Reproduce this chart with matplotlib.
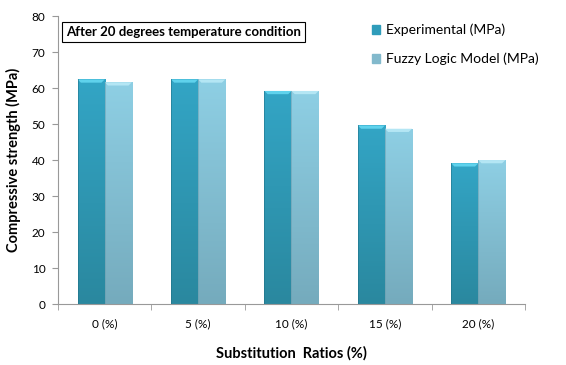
import matplotlib.pyplot as plt
import numpy as np
from matplotlib.colors import LinearSegmentedColormap
from matplotlib.patches import Patch

categories = ["0 (%)", "5 (%)", "10 (%)", "15 (%)", "20 (%)"]
experimental = [62.4, 62.4, 59.2, 49.6, 39.1]
fuzzy = [61.6, 62.4, 59.2, 48.7, 40.0]

plt.rcParams['font.family'] = ['Lato', 'DejaVu Sans']

fig = plt.figure(figsize=(5.66, 3.65), dpi=100)
ax = fig.add_axes([0.1025, 0.167, 0.825, 0.789])

x = np.arange(len(categories))
w = 0.29

# gradient fills, lighter at the top, darker near the base
exp_cmap = LinearSegmentedColormap.from_list("exp", ["#2a889f", "#33a5c5"])
fuz_cmap = LinearSegmentedColormap.from_list("fuz", ["#75abbd", "#8ecfe4"])
grad = np.linspace(0, 1, 100).reshape(-1, 1)

bars1 = ax.bar(x - w / 2, experimental, w, color="#33a5c5", edgecolor="none", zorder=2)
bars2 = ax.bar(x + w / 2, fuzzy, w, color="#8ecfe4", edgecolor="none", zorder=2)

for bars, cmap, cap, edge in [(bars1, exp_cmap, "#5fd2ec", "#1f6f85"),
                              (bars2, fuz_cmap, "#b4e6f4", "#6a9cad")]:
    for b in bars:
        x0, h, bw = b.get_x(), b.get_height(), b.get_width()
        im = ax.imshow(grad, cmap=cmap, origin="lower", aspect="auto",
                       extent=[x0, x0 + bw, 0, h], zorder=2)
        im.set_clip_path(b)
        # bevelled top edge
        ax.fill([x0, x0 + bw, x0 + bw * 0.88, x0 + bw * 0.12],
                [h, h, h - 0.9, h - 0.9], color=cap, lw=0, zorder=3)
        ax.plot([x0, x0], [0, h], color=edge, lw=0.6, alpha=0.6, zorder=3)

ax.set_xlim(-0.5, len(categories) - 0.5)
ax.set_ylim(0, 80)
ax.set_yticks(np.arange(0, 81, 10))
ax.set_xticks(x)
ax.set_xticklabels(categories)
ax.set_xticks(np.arange(-0.5, len(categories), 1), minor=True)
ax.tick_params(axis="x", which="major", length=0, pad=10, labelsize=8.5, colors="#000000")
ax.tick_params(axis="x", which="minor", length=4, color="#999999")
ax.tick_params(axis="y", length=4, color="#999999", labelsize=8.5, pad=5)

for s in ["top", "right"]:
    ax.spines[s].set_visible(False)
for s in ["left", "bottom"]:
    ax.spines[s].set_color("#999999")

ax.set_ylabel("Compressive strength (MPa)", fontsize=10.5, fontweight="bold", labelpad=8)
ax.set_xlabel("Substitution  Ratios (%)", fontsize=10.5, fontweight="bold", labelpad=12)

ax.text(0.017, 0.945, "After 20 degrees temperature condition", transform=ax.transAxes,
        fontsize=9.5, fontweight="bold", va="center", ha="left",
        bbox=dict(boxstyle="square,pad=0.3", fc="white", ec="black", lw=0.8))

handles = [Patch(color="#2f9cba", label="Experimental (MPa)"),
           Patch(color="#82b9cc", label="Fuzzy Logic Model (MPa)")]
fig.legend(handles=handles, loc="upper left", bbox_to_anchor=(0.635, 0.97),
           frameon=False, fontsize=10, handlelength=0.6, handleheight=0.6,
           handletextpad=0.4, labelspacing=1.2)

fig.savefig("out.png", dpi=100)
